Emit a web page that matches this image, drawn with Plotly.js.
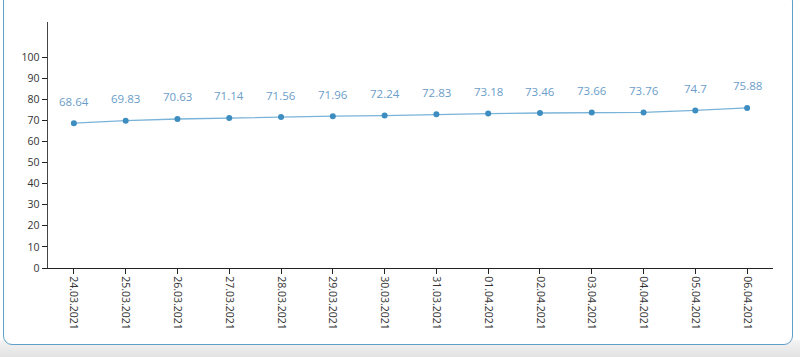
<!DOCTYPE html>
<html>
<head>
<meta charset="utf-8">
<script src="https://cdn.plot.ly/plotly-3.0.1.min.js"></script>
<style>
html,body{margin:0;padding:0;width:800px;height:357px;overflow:hidden;background:#fff;font-family:"Open Sans",sans-serif;}
#bg{position:absolute;left:0;top:340px;width:800px;height:17px;background:linear-gradient(#f4f4f4,#e2e2e2);}
#frame{position:absolute;left:3px;top:-8px;width:790px;height:353px;border:1.5px solid #5f9fc9;border-radius:9px;background:#fff;box-sizing:border-box;}
#chart{position:absolute;left:0;top:0;width:800px;height:357px;}
</style>
</head>
<body>
<div id="bg"></div>
<div id="frame"></div>
<div id="chart"></div>
<script>
const dates = ["24.03.2021","25.03.2021","26.03.2021","27.03.2021","28.03.2021","29.03.2021","30.03.2021","31.03.2021","01.04.2021","02.04.2021","03.04.2021","04.04.2021","05.04.2021","06.04.2021"];
const values = [68.64,69.83,70.63,71.14,71.56,71.96,72.24,72.83,73.18,73.46,73.66,73.76,74.7,75.88];
const yTicks = [0,10,20,30,40,50,60,70,80,90,100];

const trace = {
  x: dates, y: values, type: 'scatter', mode: 'lines+markers',
  line: {color: '#7ab3d8', width: 1.3},
  marker: {color: '#3d8dc1', size: 6},
  hoverinfo: 'none'
};
const annotations = dates.map((d, i) => ({
  x: d, y: values[i], xref: 'x', yref: 'y', text: String(values[i]),
  showarrow: false, yshift: 22, font: {family: 'Open Sans, sans-serif', size: 11.5, color: '#6b9dc8'}
}));
const layout = {
  width: 800, height: 357,
  margin: {l: 48, r: 27, t: 22, b: 89},
  paper_bgcolor: 'rgba(0,0,0,0)', plot_bgcolor: 'rgba(0,0,0,0)',
  showlegend: false,
  xaxis: {
    type: 'category', range: [-0.5, 13.5], showgrid: false, zeroline: false,
    showline: true, linecolor: '#222', linewidth: 1.2,
    ticks: 'outside', ticklen: 5, tickcolor: '#222', tickangle: 90,
    tickfont: {family: 'Open Sans, sans-serif', size: 10.5, color: '#333'}
  },
  yaxis: {
    range: [0, 116.6], tickvals: yTicks, showgrid: false, zeroline: false,
    showline: true, linecolor: '#444', linewidth: 1.5,
    ticks: 'outside', ticklen: 5, tickcolor: '#222',
    tickfont: {family: 'Open Sans, sans-serif', size: 10.5, color: '#333'}
  },
  annotations: annotations
};
Plotly.newPlot('chart', [trace], layout, {displayModeBar: false, staticPlot: true});
</script>
</body>
</html>
